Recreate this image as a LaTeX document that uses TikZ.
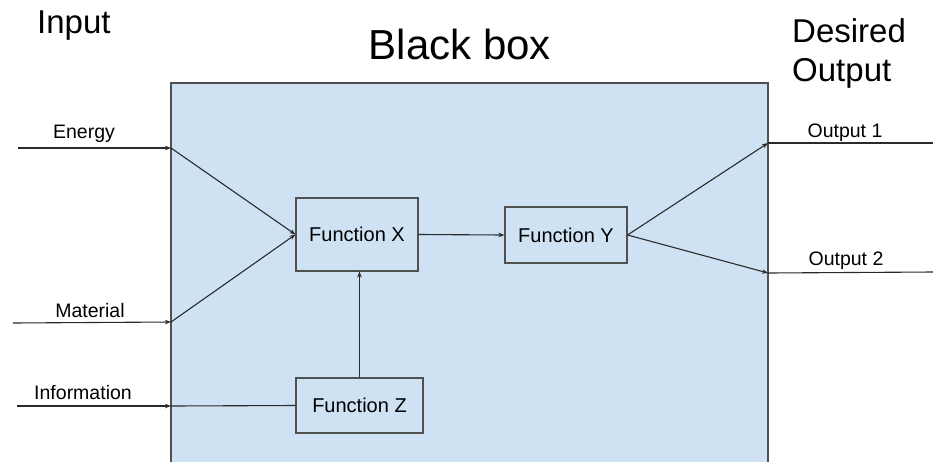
\documentclass[tikz,border=0pt]{standalone}
\usepackage{fontspec}
\setmainfont{Liberation Sans}
\usetikzlibrary{arrows.meta}
\definecolor{bbfill}{HTML}{CFE2F3}
\definecolor{bbline}{HTML}{505050}
\definecolor{conn}{HTML}{2A2A2A}
\tikzset{
  funcbox/.style={draw=bbline,line width=1.1pt,fill=bbfill,minimum width=122pt,minimum height=56pt,inner sep=0pt,font=\fontsize{20}{23}\selectfont},
  lbl/.style={font=\fontsize{19.5}{22}\selectfont,inner sep=0pt,anchor=base},
  title/.style={font=\fontsize{33}{38}\selectfont,inner sep=0pt},
  conn/.style={draw=conn,line width=1.1pt},
  arr/.style={conn,-{Stealth[length=6pt,width=4.5pt]}}
}
\begin{document}
\begin{tikzpicture}[x=1pt,y=-1pt]
\useasboundingbox (0,0) rectangle (933,461);
% black box
\path[fill=bbfill,draw=bbline,line width=1.3pt] (171,470) -- (171,83) -- (768,83) -- (768,470);
% titles
\node[title,anchor=base west] (tin) at (37,33) {Input};
\node[font=\fontsize{42}{46}\selectfont,inner sep=0pt,anchor=base] (tbb) at (460,59) {Black box};
\node[title,anchor=base west] (tdes) at (792,42) {Desired};
\node[title,anchor=base west] (tout) at (792,81) {Output};
% function boxes
\node[funcbox,minimum width=122pt,minimum height=73pt] (X) at (357,234.5) {Function X};
\node[funcbox,minimum width=122pt,minimum height=56pt] (Y) at (566,235) {Function Y};
\node[funcbox,minimum width=127pt,minimum height=55pt] (Z) at (359.5,405.5) {Function Z};
% coordinates
\coordinate (e0) at (18,148);
\coordinate (e1) at (171,148);
\coordinate (m0) at (13,323);
\coordinate (m1) at (171,322);
\coordinate (i0) at (17,406);
\coordinate (i1) at (171,406);
\coordinate (o1) at (768,143);
\coordinate (o1e) at (933,143);
\coordinate (o2) at (768,273);
\coordinate (o2e) at (933,272);
% labels
\node[lbl] (le) at (84,138) {Energy};
\node[lbl] (lm) at (90,317) {Material};
\node[lbl] (li) at (83,399) {Information};
\node[lbl] (lo1) at (845,137) {Output 1};
\node[lbl] (lo2) at (846,265) {Output 2};
% connectors
\draw[arr] (e0) -- (e1);
\draw[arr] (e1) -- (X.west);
\draw[arr] (m0) -- (m1);
\draw[arr] (m1) -- (X.west);
\draw[arr] (i0) -- (i1);
\draw[conn] (i1) -- (Z.west);
\draw[arr] (Z.north) -- (Z.north |- X.south);
\draw[arr] (X.east) -- (Y.west);
\draw[arr] (Y.east) -- (o1);
\draw[arr] (Y.east) -- (o2);
\draw[conn] (o1) -- (o1e);
\draw[conn] (o2) -- (o2e);
\end{tikzpicture}
\end{document}
